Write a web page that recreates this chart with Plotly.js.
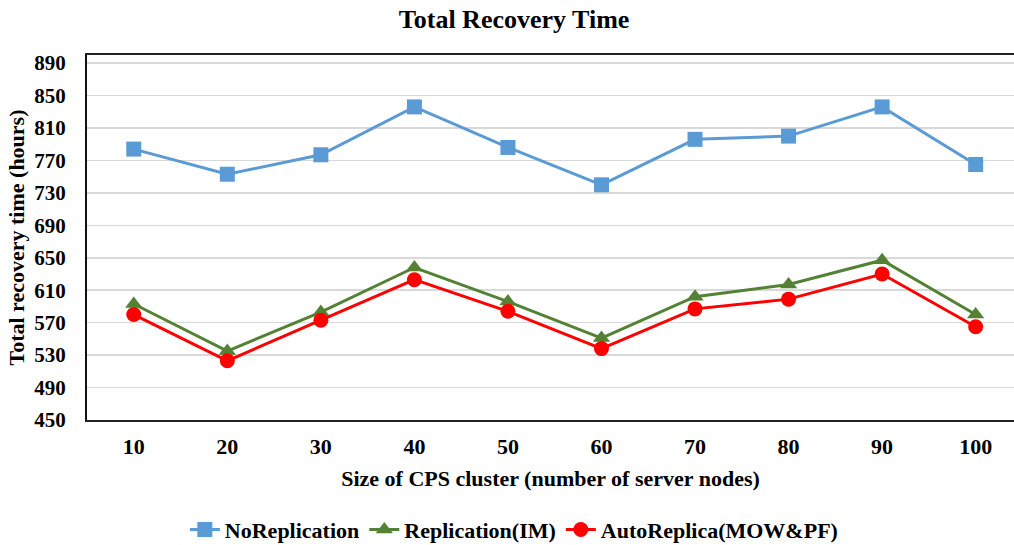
<!DOCTYPE html>
<html>
<head>
<meta charset="utf-8">
<script src="https://cdn.plot.ly/plotly-3.0.1.min.js"></script>
<style>html,body{margin:0;padding:0;background:#fff;}#chart{width:1014px;height:545px;}</style>
</head>
<body>
<div id="chart"></div>
<script>
const clusterSizes = ["10", "20", "30", "40", "50", "60", "70", "80", "90", "100"];
const noReplication = [784, 753, 777, 836, 786, 740, 796, 800, 836, 765];
const replicationIM = [593, 535, 583, 638, 596, 551, 602, 617, 647, 580];
const autoReplica = [580, 523, 573, 623, 584, 538, 587, 599, 630, 565];
const yTicks = [450, 490, 530, 570, 610, 650, 690, 730, 770, 810, 850, 890];

const FONT = "Liberation Serif, 'Times New Roman', serif";
const traces = [
  {x: clusterSizes, y: noReplication, name: "NoReplication", mode: "lines+markers",
   line: {color: "#5B9BD5", width: 3}, marker: {symbol: "square", size: 15, color: "#5B9BD5"}},
  {x: clusterSizes, y: replicationIM, name: "Replication(IM)", mode: "lines+markers",
   line: {color: "#548235", width: 3}, marker: {symbol: "triangle-up", size: 15, color: "#548235"}},
  {x: clusterSizes, y: autoReplica, name: "AutoReplica(MOW&PF)", mode: "lines+markers",
   line: {color: "#FF0000", width: 3}, marker: {symbol: "circle", size: 15, color: "#FF0000"}}
];

const layout = {
  width: 1014, height: 545,
  margin: {l: 87, r: 0, t: 55, b: 125},
  paper_bgcolor: "#fff", plot_bgcolor: "#fff",
  font: {family: FONT, color: "#000", size: 22, weight: "bold"},
  title: {text: "Total Recovery Time", x: 0.507, xanchor: "center", y: 0.965, yanchor: "middle",
          font: {family: FONT, size: 26, weight: "bold", color: "#000"}},
  showlegend: true,
  legend: {orientation: "h", x: 0.461, xanchor: "center", yref: "container", y: 0.028, yanchor: "middle",
           font: {family: FONT, size: 22, weight: "bold", color: "#000"}, itemwidth: 30, tracegroupgap: 0},
  xaxis: {type: "category", range: [-0.5, 9.41], showgrid: false, zeroline: false,
          showline: true, linecolor: "#222", linewidth: 2, mirror: true,
          ticks: "outside", ticklen: 6, tickcolor: "rgba(0,0,0,0)", automargin: false,
          tickfont: {family: FONT, size: 22, weight: "bold", color: "#000"},
          title: {text: "Size of CPS cluster (number of server nodes)", standoff: 12,
                  font: {family: FONT, size: 22, weight: "bold", color: "#000"}}},
  yaxis: {range: [450, 900], tickvals: yTicks, ticktext: yTicks.map(String),
          showgrid: true, gridcolor: "#d9d9d9", gridwidth: 1.5, zeroline: false,
          showline: true, linecolor: "#111", linewidth: 2, mirror: true,
          ticks: "outside", ticklen: 15, tickcolor: "rgba(0,0,0,0)", automargin: false,
          tickfont: {family: FONT, size: 21, weight: "bold", color: "#000"},
          title: {text: "Total recovery time (hours)", standoff: 4,
                  font: {family: FONT, size: 22, weight: "bold", color: "#000"}}}
};

Plotly.newPlot("chart", traces, layout, {displayModeBar: false, staticPlot: true});
</script>
</body>
</html>
